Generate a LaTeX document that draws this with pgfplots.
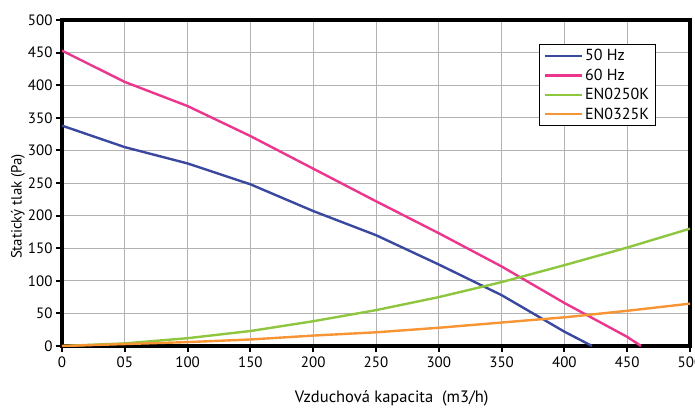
\documentclass[border=0pt]{standalone}
\usepackage{fontspec}
\setmainfont{PT Sans}
\usepackage{pgfplots}
\pgfplotsset{compat=1.18}
\definecolor{cblue}{RGB}{59,72,160}
\definecolor{cpink}{RGB}{236,53,140}
\definecolor{cgreen}{RGB}{142,198,63}
\definecolor{corange}{RGB}{247,148,51}
\begin{document}
\begin{tikzpicture}
\path[use as bounding box] (-62pt,-62pt) rectangle (633pt,346pt);
\begin{axis}[
  at={(0pt,0pt)}, anchor=south west,
  scale only axis, width=628pt, height=326pt,
  xmin=0, xmax=500, ymin=0, ymax=500,
  xtick={0,50,...,500},
  xticklabels={0,05,100,150,200,250,300,350,400,450,500},
  ytick={0,50,...,500},
  /pgf/number format/assume math mode=true,
  tick label style={font=\fontsize{15}{17}\selectfont},
  xlabel={Vzduchová kapacita\ \ (m3/h)},
  ylabel={Statický tlak (Pa)},
  xlabel style={font=\fontsize{16.5}{18}\selectfont, at={(axis description cs:0.525,-0.16)}, anchor=center},
  ylabel style={font=\fontsize{14.8}{17}\selectfont, at={(axis description cs:-0.07,0.428)}, anchor=center},
  xmajorgrids, ymajorgrids,
  grid style={gray!60, line width=0.9pt},
  axis line style={black, line width=3.6pt},
  every tick/.style={black, line width=2pt},
  tick align=outside, major tick length=6pt,
  xtick pos=bottom, ytick pos=left,
  xticklabel style={yshift=-1pt},
  legend style={at={(0.76,0.926)}, anchor=north west, draw=black, line width=0.8pt,
    font=\fontsize{16}{18}\selectfont, inner xsep=4pt, inner ysep=3pt, row sep=2.5pt,
    cells={anchor=west}, /tikz/every even column/.append style={column sep=4pt}},
  legend cell align=left,
  legend image code/.code={\draw[#1, line width=2.4pt] (0pt,0pt) -- (37pt,0pt);},
  every axis plot/.append style={line width=2.4pt},
]
\addplot[cblue] coordinates {(0,338) (50,305) (100,280) (150,248) (200,207) (250,170) (300,125) (350,78) (400,22) (422,0)};
\addlegendentry{50 Hz}
\addplot[cpink] coordinates {(0,453) (50,405) (100,368) (150,322) (200,272) (250,222) (300,173) (350,122) (400,66) (450,14) (461,0)};
\addlegendentry{60 Hz}
\addplot[cgreen] coordinates {(0,0) (50,4) (100,12) (150,23) (200,38) (250,55) (300,75) (350,98) (400,124) (450,151) (500,180)};
\addlegendentry{EN0250K}
\addplot[corange] coordinates {(0,0) (50,3) (100,6) (150,10) (200,16) (250,21) (300,28) (350,36) (400,44) (450,54) (500,65)};
\addlegendentry{EN0325K}
\end{axis}
\end{tikzpicture}
\end{document}
